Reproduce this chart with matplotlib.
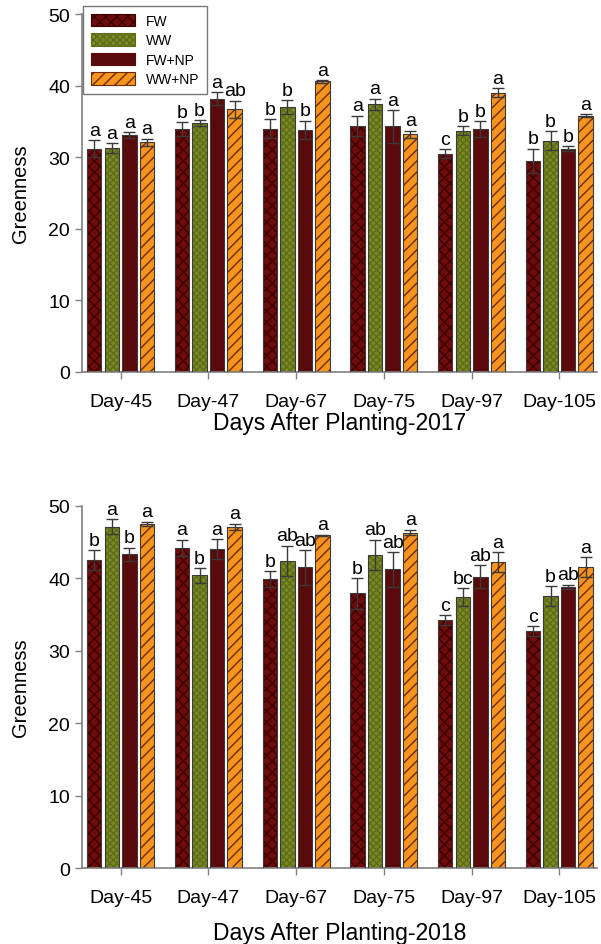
import matplotlib
matplotlib.use("Agg")
import matplotlib.pyplot as plt
import numpy as np

plt.rcParams['font.family'] = ['Liberation Sans', 'DejaVu Sans']
plt.rcParams['hatch.linewidth'] = 1.0

days = ["Day-45", "Day-47", "Day-67", "Day-75", "Day-97", "Day-105"]
treatments = ["FW", "WW", "FW+NP", "WW+NP"]

# 2017
fw_2017 = [31.2, 33.9, 34.0, 34.4, 30.5, 29.5]
ww_2017 = [31.3, 34.8, 37.0, 37.4, 33.7, 32.3]
fwnp_2017 = [33.1, 38.2, 33.8, 34.3, 33.9, 31.2]
wwnp_2017 = [32.1, 36.7, 40.6, 33.2, 39.0, 35.8]
fw_2017_err = [1.2, 1.0, 1.3, 1.4, 0.6, 1.7]
ww_2017_err = [0.7, 0.4, 1.0, 0.8, 0.6, 1.3]
fwnp_2017_err = [0.4, 0.9, 1.3, 2.3, 1.1, 0.3]
wwnp_2017_err = [0.5, 1.2, 0.2, 0.5, 0.6, 0.2]
fw_2017_lab = ["a", "b", "b", "a", "c", "b"]
ww_2017_lab = ["a", "b", "b", "a", "b", "b"]
fwnp_2017_lab = ["a", "a", "b", "a", "b", "b"]
wwnp_2017_lab = ["a", "ab", "a", "a", "a", "a"]

# 2018
fw_2018 = [42.5, 44.2, 39.9, 37.9, 34.2, 32.7]
ww_2018 = [47.1, 40.4, 42.4, 43.2, 37.4, 37.5]
fwnp_2018 = [43.3, 44.0, 41.5, 41.2, 40.2, 38.8]
wwnp_2018 = [47.5, 47.1, 45.9, 46.3, 42.2, 41.5]
fw_2018_err = [1.4, 1.1, 1.1, 2.1, 0.7, 0.7]
ww_2018_err = [1.0, 1.0, 2.1, 2.1, 1.2, 1.4]
fwnp_2018_err = [0.9, 1.4, 2.4, 2.4, 1.6, 0.3]
wwnp_2018_err = [0.3, 0.4, 0.1, 0.4, 1.4, 1.4]
fw_2018_lab = ["b", "a", "b", "b", "c", "c"]
ww_2018_lab = ["a", "b", "ab", "ab", "bc", "b"]
fwnp_2018_lab = ["b", "a", "ab", "ab", "ab", "ab"]
wwnp_2018_lab = ["a", "a", "a", "a", "a", "a"]

styles = [
    dict(face="#6e0b0b", hatch="xxx", hcolor="#3d0000"),
    dict(face="#7a8a22", hatch="xxxxx", hcolor="#5d6b18"),
    dict(face="#5a0a0a", hatch="", hcolor="#5a0a0a"),
    dict(face="#f7941d", hatch="///", hcolor="#6a2a05"),
]

fig = plt.figure(figsize=(6.01, 9.45), dpi=100)
ax1 = fig.add_axes([0.1364, 0.6053, 0.857, 0.3788])
ax2 = fig.add_axes([0.1364, 0.0804, 0.857, 0.3834])

panels = [
    (ax1, [fw_2017, ww_2017, fwnp_2017, wwnp_2017],
     [fw_2017_err, ww_2017_err, fwnp_2017_err, wwnp_2017_err],
     [fw_2017_lab, ww_2017_lab, fwnp_2017_lab, wwnp_2017_lab],
     "Days After Planting-2017", True, 1),
    (ax2, [fw_2018, ww_2018, fwnp_2018, wwnp_2018],
     [fw_2018_err, ww_2018_err, fwnp_2018_err, wwnp_2018_err],
     [fw_2018_lab, ww_2018_lab, fwnp_2018_lab, wwnp_2018_lab],
     "Days After Planting-2018", False, 11),
]

x = np.arange(len(days))
pitch = 0.2
width = 0.165

for ax, vals, errs, labs, xlabel, show_leg, lpad in panels:
    handles = []
    for i in range(4):
        pos = x + (i - 1.5) * pitch
        st = styles[i]
        ax.bar(pos, vals[i], width, color=st["face"], hatch=st["hatch"],
               edgecolor=st["hcolor"], linewidth=0, zorder=2)
        ax.bar(pos, vals[i], width, fill=False, edgecolor="#3a3a3a",
               linewidth=0.8, zorder=3)
        ax.errorbar(pos, vals[i], yerr=errs[i], fmt="none", ecolor="#3a3a3a",
                    elinewidth=1.0, capsize=4.5, capthick=1.0, zorder=4)
        for j in range(len(days)):
            ax.annotate(labs[i][j], (pos[j], vals[i][j] + errs[i][j]),
                        xytext=(0, 1), textcoords="offset points",
                        ha="center", va="bottom", fontsize=14, zorder=5)
        h = plt.Rectangle((0, 0), 1, 1, facecolor=st["face"], hatch=st["hatch"],
                          edgecolor=st["hcolor"], linewidth=0.8)
        handles.append(h)
    ax.set_xlim(-0.44, 5.43)
    ax.set_ylim(0, 50)
    ax.set_yticks([0, 10, 20, 30, 40, 50])
    ax.set_xticks(x)
    ax.set_xticklabels(days, fontsize=14)
    ax.tick_params(axis="y", labelsize=14, direction="out", length=5,
                   color="#808080", width=1.0)
    ax.tick_params(axis="x", direction="out", length=5, color="#808080",
                   width=1.0, pad=10)
    for s in ["top", "right"]:
        ax.spines[s].set_visible(False)
    for s in ["left", "bottom"]:
        ax.spines[s].set_color("#808080")
        ax.spines[s].set_linewidth(1.2)
    ax.set_xlabel(xlabel, fontsize=16.5, labelpad=lpad)
    ax.set_ylabel("Greenness", fontsize=14.5, labelpad=13)
    if show_leg:
        leg = ax.legend(handles, treatments, loc="upper left",
                        bbox_to_anchor=(0.002, 1.022), borderaxespad=0,
                        fontsize=10, frameon=True, fancybox=False,
                        edgecolor="#555555",
                        handlelength=3.2, handleheight=1.0, labelspacing=0.4,
                        borderpad=0.55, handletextpad=0.8)
        leg.get_frame().set_linewidth(1.0)
        leg.set_zorder(10)

fig.savefig("out.png", dpi=100)
